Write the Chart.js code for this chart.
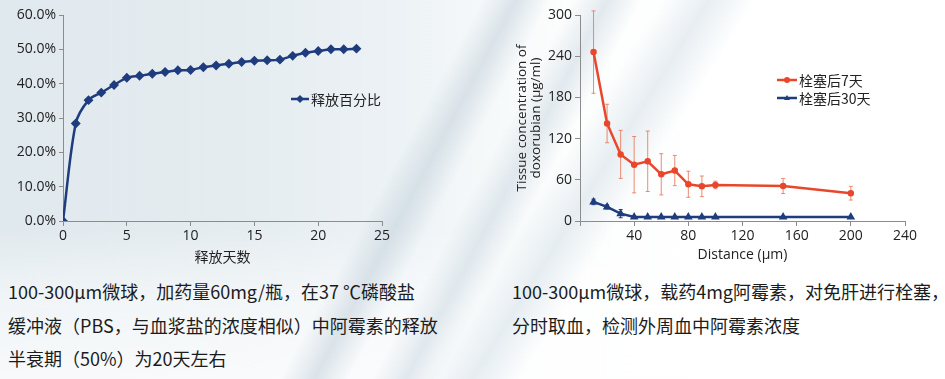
<!DOCTYPE html>
<html><head><meta charset="utf-8">
<script src="https://cdn.jsdelivr.net/npm/chart.js@4.4.1/dist/chart.umd.min.js"></script>
<style>
html,body{margin:0;padding:0;}
body{width:945px;height:379px;overflow:hidden;position:relative;font-family:'Noto Sans CJK SC','Open Sans',sans-serif;
background:
 linear-gradient(-62deg, rgba(255,255,255,0) 52%, rgba(190,205,216,0.5) 55%, rgba(255,255,255,0) 58%),
 linear-gradient(-62deg, rgba(255,255,255,0) 44%, rgba(200,214,224,0.5) 47%, rgba(255,255,255,0) 50%),
 linear-gradient(-58deg, rgba(255,255,255,0) 36%, rgba(212,224,232,0.55) 40%, rgba(255,255,255,0) 44%),
 linear-gradient(180deg, rgba(255,255,255,0) 60%, rgba(255,255,255,0.55) 80%, rgba(255,255,255,0.75) 100%),
 linear-gradient(90deg, #e0e9ee 0%, #e5ecf0 25%, #ecf2f5 42%, #f6f9fa 52%, #fcfdfd 60%, #ffffff 75%, #ffffff 100%);}
.box{position:absolute;top:0;}
#b1{left:0;width:400px;height:270px;}
#b2{left:500px;width:445px;height:270px;}
.cap{position:absolute;font-size:18px;color:#1c1c1c;white-space:nowrap;line-height:20px;}
.leg{position:absolute;font-size:14px;color:#222;white-space:nowrap;line-height:16px;display:flex;align-items:center;font-family:'Noto Sans CJK SC',sans-serif;}
.leg svg{margin-right:2px;}
</style></head>
<body>
<div class="box" id="b1"><canvas id="c1" width="400" height="270"></canvas></div>
<div class="box" id="b2"><canvas id="c2" width="445" height="270"></canvas></div>

<div class="leg" style="left:291px;top:91px;"><svg width="18" height="10"><line x1="0" y1="5" x2="18" y2="5" stroke="#1e3c7e" stroke-width="2.5"/><polygon points="9,1 13,5 9,9 5,5" fill="#1e3c7e"/></svg>释放百分比</div>
<div class="leg" style="left:777px;top:72px;"><svg width="20" height="10"><line x1="0" y1="5" x2="20" y2="5" stroke="#e8472b" stroke-width="2.5"/><circle cx="10" cy="5" r="3" fill="#e8472b"/></svg>栓塞后7天</div>
<div class="leg" style="left:777px;top:90px;"><svg width="20" height="10"><line x1="0" y1="5" x2="20" y2="5" stroke="#1e3c7e" stroke-width="2.5"/><polygon points="10,2 13,7 7,7" fill="#1e3c7e"/></svg>栓塞后30天</div>

<div class="cap" style="left:8px;top:281px;">100-300μm微球，加药量60mg/瓶，在37 ℃磷酸盐</div>
<div class="cap" style="left:8px;top:315px;">缓冲液（PBS，与血浆盐的浓度相似）中阿霉素的释放</div>
<div class="cap" style="left:8px;top:348px;">半衰期（50%）为20天左右</div>
<div class="cap" style="left:512px;top:281px;">100-300μm微球，载药4mg阿霉素，对免肝进行栓塞，</div>
<div class="cap" style="left:512px;top:315px;">分时取血，检测外周血中阿霉素浓度</div>

<script>
// ---- Data ----
const releaseDays = [0,1,2,3,4,5,6,7,8,9,10,11,12,13,14,15,16,17,18,19,20,21,22,23];
const releasePct  = [0,28.4,35.2,37.4,39.6,41.7,42.3,42.9,43.4,43.9,44.0,44.8,45.3,45.8,46.3,46.7,46.8,47.0,48.1,49.0,49.5,50.0,50.0,50.2];
const releaseLabel = '释放百分比';

const distance = [10,20,30,40,50,60,70,80,90,100,150,200];
const conc7  = [246,142,97,82,87,68,73.5,53.5,50.5,52.5,51,40.5];
const err7   = [60,28,35,41,44,30,22,19,15,5.5,11,10];
const conc30 = [27.8,20.5,10.7,5.8,5.8,5.8,5.8,5.8,5.8,5.8,5.8,5.8];
const err30  = [4,3,6,0,0,0,0,0,0,0,0,0];
const label7 = '栓塞后7天', label30 = '栓塞后30天';

const NAVY = '#1e3c7e', ORANGE = '#e8472b';
const FONT = "'Open Sans','Noto Sans CJK SC',sans-serif";
const AXIS = '#8c8c8c';

Chart.defaults.font.family = FONT;
Chart.defaults.color = '#222';

const pts = (xs, ys) => xs.map((x,i)=>({x, y: ys[i]}));

const fixW = w => s => { s.width = w; };
const fixH = h => s => { s.height = h; };

// ---- Left chart ----
new Chart(document.getElementById('c1'), {
  type: 'line',
  data: { datasets: [{
    label: releaseLabel, data: pts(releaseDays, releasePct),
    borderColor: NAVY, backgroundColor: NAVY, borderWidth: 2.5,
    pointStyle: 'rectRot', pointRadius: 3.2, pointHoverRadius: 3.2,
    tension: 0.3, cubicInterpolationMode: 'default'
  }]},
  options: {
    responsive: false, animation: false, events: [],
    layout: { padding: { top: 15, right: 18, left: 0, bottom: 0 } },
    plugins: { legend: { display: false }, tooltip: { enabled: false } },
    scales: {
      x: { type: 'linear', min: 0, max: 25,
        ticks: { stepSize: 5, font: { size: 14 }, color: '#222', padding: 2 },
        grid: { drawOnChartArea: false, drawTicks: true, tickLength: 5, color: AXIS },
        border: { color: AXIS, width: 1 },
        title: { display: true, text: '释放天数', font: { size: 14, family: "'Noto Sans CJK SC',sans-serif" }, color: '#222', padding: { top: 0, bottom: 5 } },
        afterFit: fixH(49)
      },
      y: { min: 0, max: 60,
        ticks: { stepSize: 10, font: { size: 14 }, color: '#222', padding: 3, callback: v => v.toFixed(1) + '%' },
        grid: { drawOnChartArea: false, drawTicks: true, tickLength: 4, color: AXIS },
        border: { color: AXIS, width: 1 },
        afterFit: fixW(63)
      }
    }
  }
});

// ---- Right chart ----
const errSets = [err7, err30];
const errColors = ['rgba(232,120,90,0.85)', NAVY];
const errBars = {
  id: 'errBars',
  beforeDatasetsDraw(chart) {
    const { ctx, scales: { x, y } } = chart;
    chart.data.datasets.forEach((ds, i) => {
      const errs = errSets[i];
      ctx.save();
      ctx.strokeStyle = errColors[i];
      ctx.lineWidth = 1;
      ds.data.forEach((p, j) => {
        const e = errs[j];
        if (!e) return;
        const px = x.getPixelForValue(p.x);
        const t = y.getPixelForValue(p.y + e);
        const b = y.getPixelForValue(p.y - e);
        ctx.beginPath();
        ctx.moveTo(px, t); ctx.lineTo(px, b);
        ctx.moveTo(px - 2, t); ctx.lineTo(px + 2, t);
        ctx.moveTo(px - 2, b); ctx.lineTo(px + 2, b);
        ctx.stroke();
      });
      ctx.restore();
    });
  }
};

new Chart(document.getElementById('c2'), {
  type: 'line',
  data: { datasets: [
    { label: label7, data: pts(distance, conc7), borderColor: ORANGE, backgroundColor: ORANGE,
      borderWidth: 2.5, pointStyle: 'circle', pointRadius: 2, tension: 0 },
    { label: label30, data: pts(distance, conc30), borderColor: NAVY, backgroundColor: NAVY,
      borderWidth: 2.5, pointStyle: 'triangle', pointRadius: 2.5, tension: 0 }
  ]},
  options: {
    responsive: false, animation: false, events: [],
    layout: { padding: { top: 15, right: 40, left: 0, bottom: 0 } },
    plugins: { legend: { display: false }, tooltip: { enabled: false } },
    scales: {
      x: { type: 'linear', min: 0, max: 240,
        ticks: { stepSize: 40, font: { size: 14 }, color: '#222', padding: 2, callback: v => v === 0 ? '' : v },
        grid: { drawOnChartArea: false, drawTicks: true, tickLength: 5, color: AXIS },
        border: { color: AXIS, width: 1 },
        title: { display: true, text: 'Distance (μm)', font: { size: 14 }, color: '#222', padding: { top: 0, bottom: 7 } },
        afterFit: fixH(49)
      },
      y: { min: 0, max: 300,
        ticks: { stepSize: 60, font: { size: 14 }, color: '#222', padding: 3 },
        grid: { drawOnChartArea: false, drawTicks: true, tickLength: 5, color: AXIS },
        border: { color: AXIS, width: 1 },
        title: { display: true, text: ['Tissue concentration of', 'doxorubian (μg/ml)'], font: { size: 13.5, lineHeight: 1.05 }, color: '#222', padding: { top: 15, bottom: 0 } },
        afterFit: fixW(80)
      }
    }
  },
  plugins: [errBars]
});
</script>
</body></html>
